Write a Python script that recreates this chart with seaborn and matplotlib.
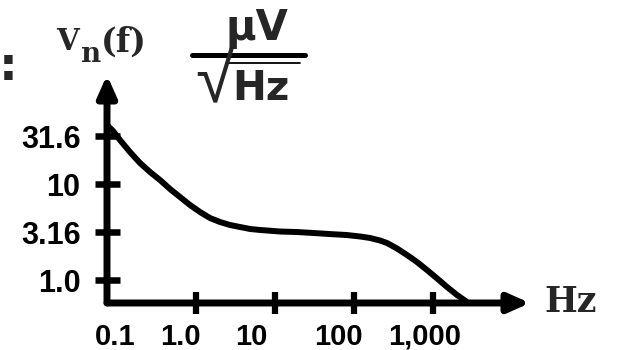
import matplotlib
matplotlib.use('Agg')
import matplotlib.pyplot as plt
import seaborn as sns
import pandas as pd
from matplotlib.transforms import ScaledTranslation
from matplotlib.lines import Line2D
from matplotlib.ticker import NullLocator

# ---- data ----
freq_hz = [0.0747, 0.0890, 0.1091, 0.1461, 0.1955, 0.2617, 0.3502, 0.4688, 0.6273,
           0.8396, 1.124, 1.504, 2.013, 2.694, 3.606, 4.825, 6.458, 11.57, 18.99,
           30.3, 49.7, 81.5, 119, 159.4, 213, 261.6, 350, 469, 627, 840, 1124,
           1504, 2013, 2694]
vn_uv = [41.2, 35.7, 28.7, 21.5, 16.55, 13.34, 11.0, 8.87, 7.32, 6.04, 5.11, 4.42,
         4.02, 3.74, 3.565, 3.40, 3.32, 3.20, 3.16, 3.09, 3.01, 2.94, 2.84, 2.74,
         2.58, 2.43, 2.13, 1.82, 1.54, 1.27, 1.04, 0.846, 0.698, 0.590]
x_major_ticks = [1, 10, 100, 1000]
x_major_labels = ['1.0', '10', '100', '1,000']
x_first_tick = [0.1]
x_first_label = ['0.1']
y_ticks = [1.0, 3.16, 10, 31.6]
y_tick_labels = ['1.0', '3.16', '10', '31.6']

sns.set_theme(style='white')
plt.rcParams['font.family'] = ['Liberation Sans', 'DejaVu Sans']

W, H = 623, 350
fig = plt.figure(figsize=(W / 100, H / 100), dpi=100)
fig.patch.set_facecolor('white')


def fx(px):
    return px / W


def fy(py):
    return 1 - py / H


ax = fig.add_axes([fx(107), fy(303), fx(530) - fx(107), fy(75) - fy(303)])
ax.set_facecolor('white')
df = pd.DataFrame({'f': freq_hz, 'v': vn_uv})
sns.lineplot(data=df, x='f', y='v', ax=ax, color='black', lw=4.3,
             sort=False, estimator=None)
for ln in ax.lines:
    ln.set_clip_on(False)
    ln.set_solid_capstyle('butt')
    ln.set_solid_joinstyle('round')
ax.set_xscale('log')
ax.set_yscale('log')
ax.set_xlim(0.0747, 16900)
ax.set_ylim(0.576, 136.6)
ax.set_xlabel('')
ax.set_ylabel('')
for s in ax.spines.values():
    s.set_visible(False)

ax.set_xticks(x_major_ticks)
ax.set_xticklabels(x_major_labels)
ax.set_xticks(x_first_tick, minor=True)
ax.set_xticklabels(x_first_label, minor=True)
ax.set_yticks(y_ticks)
ax.set_yticklabels(y_tick_labels)
ax.yaxis.set_minor_locator(NullLocator())

ax.tick_params(axis='x', which='major', direction='inout', length=16.5, width=4.5,
               pad=6, labelsize=21, color='black', bottom=True)
ax.tick_params(axis='x', which='minor', length=0, width=0, pad=6 + 8.25,
               labelsize=21, bottom=True)
ax.tick_params(axis='y', which='major', direction='inout', length=18, width=4.7,
               pad=10, labelsize=22, color='black', left=True)
for lbl in ax.get_xticklabels(which='both') + ax.get_yticklabels():
    lbl.set_fontweight('bold')
    lbl.set_color('black')

# label offsets (px) as seen in the reference
major_offsets = [-16, -24, -16, -8]
for lbl, dx in zip(ax.get_xticklabels(), major_offsets):
    lbl.set_transform(lbl.get_transform() + ScaledTranslation(dx / 100, 0, fig.dpi_scale_trans))
for lbl in ax.get_xticklabels(minor=True):
    lbl.set_transform(lbl.get_transform() + ScaledTranslation(-2 / 100, 0, fig.dpi_scale_trans))

# axes with arrow heads
arrow_kw = dict(arrowstyle='-|>,head_length=0.9,head_width=0.4', lw=5, color='black',
                shrinkA=0, shrinkB=0, mutation_scale=14)
ax.annotate('', xy=(1, 0), xytext=(0, 0), xycoords='axes fraction',
            arrowprops=arrow_kw, annotation_clip=False)
ax.annotate('', xy=(0, 1), xytext=(0, 0), xycoords='axes fraction',
            arrowprops=arrow_kw, annotation_clip=False)

# axis unit labels
fig.text(fx(544), fy(312), 'Hz', fontsize=25, fontweight='bold',
         family='DejaVu Serif', ha='left', va='baseline')
fig.text(fx(-1), fy(80), ':', fontsize=34, fontweight='bold',
         family='DejaVu Sans', ha='left', va='baseline')
fig.text(fx(56), fy(50), 'V', fontsize=21, fontweight='bold',
         family='DejaVu Serif', ha='left', va='baseline')
fig.text(fx(81), fy(62), 'n', fontsize=20, fontweight='bold',
         family='DejaVu Serif', ha='left', va='baseline')
fig.text(fx(101), fy(52), '(f)', fontsize=24, fontweight='bold',
         family='DejaVu Serif', ha='left', va='baseline')
fig.text(fx(257), fy(40), 'μV', fontsize=30, fontweight='bold',
         family='DejaVu Sans', ha='center', va='baseline')
fig.add_artist(Line2D([fx(192), fx(305)], [fy(55), fy(55)], lw=3.6, color='black',
                      transform=fig.transFigure))
fig.text(fx(195), fy(102), '√', fontsize=50, fontweight='light',
         family=['DejaVu Sans', 'Liberation Sans'], ha='left', va='baseline')
fig.add_artist(Line2D([fx(226), fx(300)], [fy(63), fy(63)], lw=1.3, color='black',
                      transform=fig.transFigure))
fig.text(fx(232), fy(100), 'Hz', fontsize=29, fontweight='bold',
         family='DejaVu Sans', ha='left', va='baseline')

fig.savefig('out.png', dpi=100, facecolor='white')
